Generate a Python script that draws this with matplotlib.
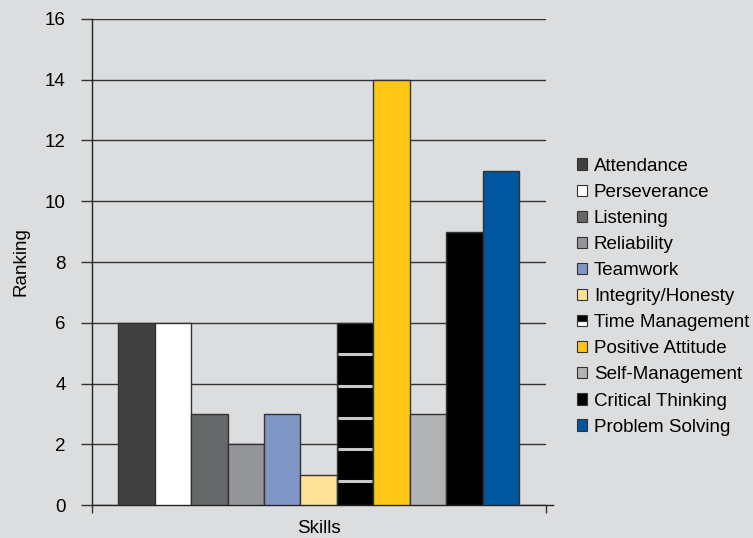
import matplotlib
matplotlib.use("Agg")
import matplotlib.pyplot as plt
import numpy as np
from matplotlib.patches import Rectangle
from matplotlib.legend_handler import HandlerBase

# chart data
skills = ['Attendance', 'Perseverance', 'Listening', 'Reliability', 'Teamwork',
          'Integrity/Honesty', 'Time Management', 'Positive Attitude',
          'Self-Management', 'Critical Thinking', 'Problem Solving']
ranking = [6, 6, 3, 2, 3, 1, 6, 14, 3, 9, 11]
colors = ['#414141', '#FFFFFF', '#666768', '#939598', '#7F96C7', '#FDE196',
          '#000000', '#FFC615', '#B1B3B5', '#000000', '#00569F']
y_ticks = [0, 2, 4, 6, 8, 10, 12, 14, 16]

bg = '#DCDDDF'
plt.rcParams['font.family'] = ['Liberation Sans', 'DejaVu Sans']
fs = 13.5


class HalfHandler(HandlerBase):
    # legend key: top half black, bottom half white
    def create_artists(self, legend, orig_handle, xdescent, ydescent,
                       width, height, fontsize, trans):
        bottom = Rectangle((-xdescent, -ydescent), width, height / 2,
                           facecolor='white', edgecolor='#333333', lw=0.8,
                           transform=trans)
        top = Rectangle((-xdescent, -ydescent + height / 2), width, height / 2,
                        facecolor='black', edgecolor='#333333', lw=0.8,
                        transform=trans)
        return [bottom, top]


fig = plt.figure(figsize=(7.53, 5.38), dpi=100, facecolor=bg)
ax = fig.add_axes([0.1222, 0.0613, 0.6029, 0.9034])
ax.set_facecolor(bg)

x = np.arange(len(skills))
bars = ax.bar(x, ranking, width=1.0, color=colors, edgecolor='#333333',
              linewidth=1.0, zorder=3)

# white stripes on the Time Management bar
tm = bars[skills.index('Time Management')]
x0, w = tm.get_x(), tm.get_width()
for yy in np.arange(0.78, tm.get_height(), 1.05):
    ax.plot([x0 + 0.04, x0 + w - 0.04], [yy, yy], color='#C9C9C9', lw=2.2,
            solid_capstyle='butt', zorder=4)

ax.set_xlim(-1.22, len(skills) - 1 + 1.24)
ax.set_ylim(0, 16)
ax.set_yticks(y_ticks)
ax.yaxis.grid(True, color='#333333', linewidth=1.0, zorder=0)
ax.set_axisbelow(True)
ax.set_xticks(ax.get_xlim())
ax.set_xticklabels([])

for s in ['top', 'right']:
    ax.spines[s].set_visible(False)
for s in ['left', 'bottom']:
    ax.spines[s].set_color('#222222')
    ax.spines[s].set_linewidth(1.0)
ax.spines['bottom'].set_clip_on(False)
ax.spines['bottom'].set_bounds(ax.get_xlim()[0], ax.get_xlim()[1] + 0.2)

ax.tick_params(axis='y', direction='out', length=8, width=1.0, color='#333333',
               labelsize=fs, pad=11)
ax.tick_params(axis='x', direction='out', length=6, width=1.0, color='#333333',
               pad=0)

ax.set_ylabel('Ranking', fontsize=fs, labelpad=11)
ax.set_xlabel('Skills', fontsize=fs, labelpad=5)

leg = ax.legend(list(bars), skills, loc='upper left',
                bbox_to_anchor=(1.052, 0.73), frameon=False, fontsize=fs,
                handlelength=0.55, handleheight=0.55, handletextpad=0.35,
                labelspacing=0.485, borderaxespad=0,
                handler_map={tm: HalfHandler()})
for h in leg.legend_handles:
    if hasattr(h, 'set_linewidth'):
        h.set_linewidth(0.8)

fig.savefig('out.png', dpi=100, facecolor=bg)
